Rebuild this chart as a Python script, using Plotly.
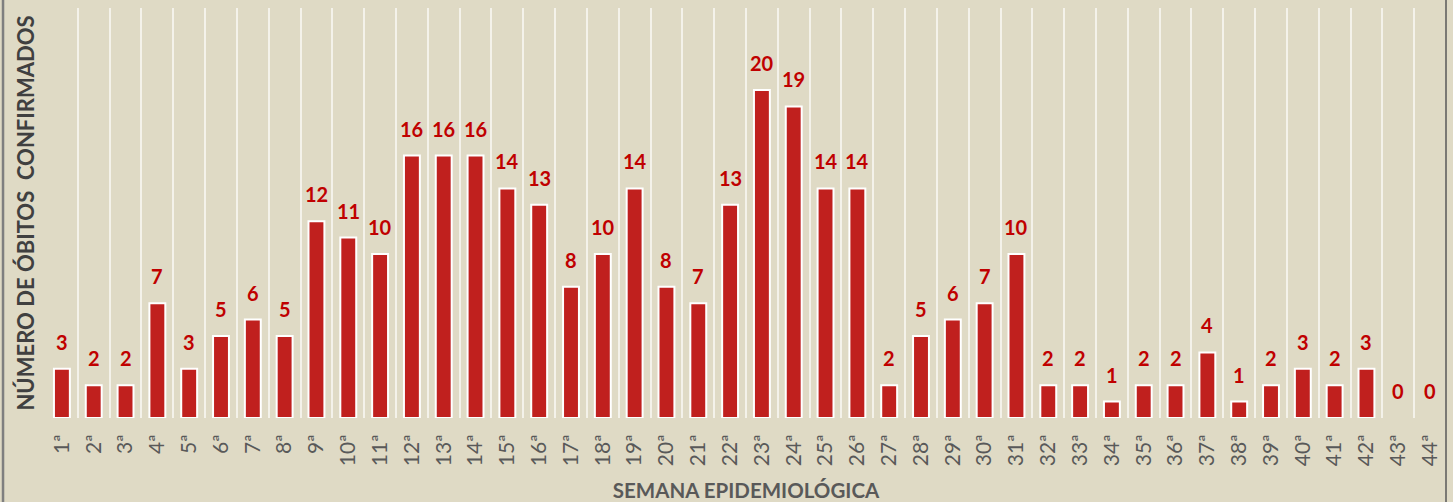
import plotly.graph_objects as go

weeks = [f"{i}ª" for i in range(1, 45)]
deaths = [3, 2, 2, 7, 3, 5, 6, 5, 12, 11, 10, 16, 16, 16, 14, 13, 8, 10, 14, 8, 7,
          13, 20, 19, 14, 14, 2, 5, 6, 7, 10, 2, 2, 1, 2, 2, 4, 1, 2, 3, 2, 3, 0, 0]

bg = "#DFDAC5"

fig = go.Figure(go.Bar(
    x=weeks, y=deaths,
    marker=dict(color="#C0201E",
                line=dict(color="white", width=[2 if v > 0 else 0 for v in deaths])),
    hoverinfo="x+y",
))

annotations = [
    dict(x=w, y=v, xref="x", yref="y", text=f"<b>{v}</b>", showarrow=False,
         yanchor="middle", yshift=27,
         font=dict(family="Lato", size=20, color="#C00000"))
    for w, v in zip(weeks, deaths)
]

fig.update_layout(
    width=1453, height=502,
    paper_bgcolor=bg, plot_bgcolor=bg,
    margin=dict(l=46, r=7, t=8, b=84, autoexpand=False),
    bargap=0.5,
    showlegend=False,
    font=dict(family="Lato"),
    annotations=annotations,
    xaxis=dict(
        type="category",
        tickson="boundaries",
        showgrid=True, gridcolor="#F4F2EA", gridwidth=2,
        tickangle=-90,
        tickfont=dict(size=21, color="#595959"),
        ticks="",
        ticklabelstandoff=11,
        showline=False,
        automargin=False,
        title=dict(text="<b>SEMANA EPIDEMIOLÓGICA</b>", standoff=20,
                   font=dict(size=20.5, color="#595959")),
    ),
    yaxis=dict(
        range=[0, 25],
        showgrid=False, zeroline=False,
        showticklabels=False,
        automargin=False,
        title=dict(text="<b>NÚMERO DE ÓBITOS  CONFIRMADOS</b>", standoff=4,
                   font=dict(size=22, color="#404040")),
    ),
    shapes=[
        dict(type="line", xref="paper", yref="paper", x0=-0.0307, x1=-0.0307, y0=-0.3, y1=1.05,
             line=dict(color="#7F7F7F", width=2.5)),
        dict(type="line", xref="paper", yref="paper", x0=1.0, x1=1.0, y0=-0.3, y1=1.05,
             line=dict(color="#595959", width=1.5)),
    ],
)

fig.write_html("out.html", config={"displayModeBar": False},
               post_script="document.body.style.margin='0';")
